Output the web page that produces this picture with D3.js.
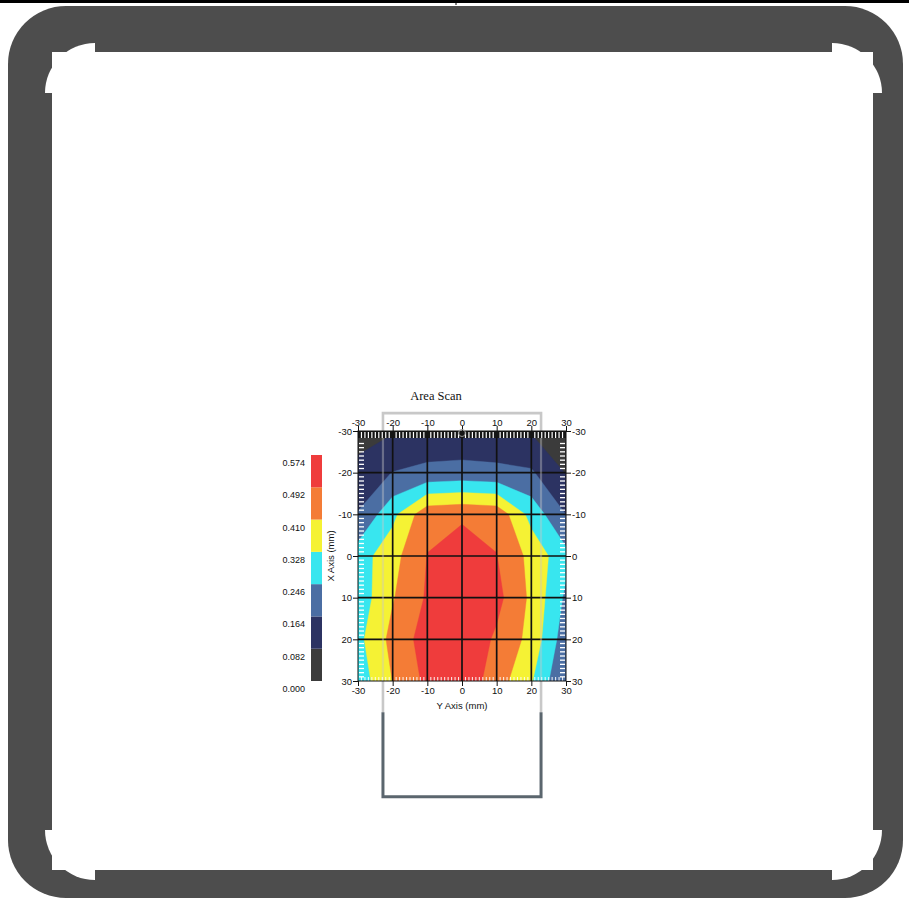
<!DOCTYPE html>
<html>
<head>
<meta charset="utf-8">
<script src="https://cdn.jsdelivr.net/npm/d3@7"></script>
<style>
  html, body { margin: 0; padding: 0; background: #fff; }
  svg { display: block; }
</style>
</head>
<body>
<svg id="chart" width="909" height="910"></svg>
<script>
// Measurement grid positions (mm)
const gridX = [-30, -20, -10, 0, 10, 20, 30];
const gridY = [-30, -20, -10, 0, 10, 20, 30];

// Measured values, one row per grid Y position (top to bottom)
const rowYm30 = [0.030, 0.075, 0.116, 0.105, 0.112, 0.075, 0.030];
const rowYm20 = [0.120, 0.166, 0.180, 0.190, 0.180, 0.174, 0.078];
const rowYm10 = [0.168, 0.305, 0.468, 0.480, 0.468, 0.298, 0.163];
const rowY0   = [0.287, 0.382, 0.494, 0.530, 0.494, 0.385, 0.270];
const rowY10  = [0.277, 0.404, 0.502, 0.570, 0.517, 0.393, 0.230];
const rowY20  = [0.305, 0.435, 0.530, 0.560, 0.478, 0.384, 0.197];
const rowY30  = [0.279, 0.412, 0.512, 0.550, 0.450, 0.335, 0.160];
const sarRows = [rowYm30, rowYm20, rowYm10, rowY0, rowY10, rowY20, rowY30];

// Colour scale levels and their labels
const levels = [0.000, 0.082, 0.164, 0.246, 0.328, 0.410, 0.492, 0.574];
const levelLabels = ["0.000", "0.082", "0.164", "0.246", "0.328", "0.410", "0.492", "0.574"];
const bandColors = ["#3b3b3b", "#2c3362", "#4b6ea3", "#38e6ef", "#f5f234", "#f47c36", "#ef3c3c"];

// Axis tick values (mm)
const xTickValues = [-30, -20, -10, 0, 10, 20, 30];
const yTickValues = [-30, -20, -10, 0, 10, 20, 30];
const gridLineValues = [-20, -10, 0, 10, 20];

// Texts
const titleText = "Area Scan";
const xTitle = "Y Axis (mm)";
const yTitle = "X Axis (mm)";

const svg = d3.select("#chart");
const W = 909, H = 910;

// ---------- surrounding frame ----------
svg.append("rect").attr("x", 0).attr("y", 0).attr("width", W).attr("height", H).attr("fill", "#fff");
svg.append("rect").attr("x", 0).attr("y", 0).attr("width", W).attr("height", 3).attr("fill", "#000");
svg.append("rect").attr("x", 455.5).attr("y", 0).attr("width", 1).attr("height", 5).attr("fill", "#000");

const frameColor = "#4d4d4d";
svg.append("rect").attr("x", 8).attr("y", 6).attr("width", 895).attr("height", 892)
  .attr("rx", 58).attr("ry", 58).attr("fill", frameColor);
svg.append("rect").attr("x", 52).attr("y", 52).attr("width", 821).attr("height", 818).attr("fill", "#fff");
// rounded corner cut-outs
const r = 50;
const corners = [
  `M95,93 L${95 - r},93 A${r},${r} 0 0 1 95,${93 - r} Z`,
  `M832,93 L832,${93 - r} A${r},${r} 0 0 1 ${832 + r},93 Z`,
  `M832,830 L${832 + r},830 A${r},${r} 0 0 1 832,${830 + r} Z`,
  `M95,830 L95,${830 + r} A${r},${r} 0 0 1 ${95 - r},830 Z`
];
svg.selectAll("path.corner").data(corners).join("path")
  .attr("class", "corner").attr("d", d => d).attr("fill", "#fff");

// ---------- plot scales ----------
const plot = { left: 358, right: 566, top: 431, bottom: 681 };
const x = d3.scaleLinear().domain([-30, 30]).range([plot.left, plot.right]);
const y = d3.scaleLinear().domain([-30, 30]).range([plot.top, plot.bottom]);

const font = "'Liberation Sans', Arial, sans-serif";

// ---------- device outline (light upper part, drawn under the plot) ----------
const outline = { half: 22.8, top: -34.3, split: 37.5, bottom: 57.8 };
const lightGray = "#c8c8c8", slate = "#5b666e";
const lightPath = `M${x(-outline.half)},${y(outline.split)} L${x(-outline.half)},${y(outline.top)} L${x(outline.half)},${y(outline.top)} L${x(outline.half)},${y(outline.split)}`;
svg.append("path").attr("d", lightPath)
  .attr("fill", "none").attr("stroke", lightGray).attr("stroke-width", 2.6);

// ---------- filled contours ----------
svg.append("clipPath").attr("id", "plotClip")
  .append("rect").attr("x", plot.left).attr("y", plot.top)
  .attr("width", plot.right - plot.left).attr("height", plot.bottom - plot.top);

const nx = gridX.length, ny = gridY.length;
const stepX = gridX[1] - gridX[0], stepY = gridY[1] - gridY[0];
const values = sarRows.flat();
const contourGen = d3.contours().size([nx, ny]).thresholds(levels.slice(0, bandColors.length));
const gridToPixel = d3.geoTransform({
  point(gx, gy) {
    this.stream.point(x(gridX[0] + (gx - 0.5) * stepX), y(gridY[0] + (gy - 0.5) * stepY));
  }
});
const contourPath = d3.geoPath(gridToPixel);

const gPlot = svg.append("g").attr("clip-path", "url(#plotClip)");
gPlot.selectAll("path.band").data(contourGen(values)).join("path")
  .attr("class", "band")
  .attr("d", contourPath)
  .attr("fill", (d, i) => bandColors[i])
  .attr("stroke", (d, i) => bandColors[i])
  .attr("stroke-width", 0.4);

// grid lines
gPlot.selectAll("line.gx").data(gridLineValues).join("line")
  .attr("x1", d => x(d)).attr("x2", d => x(d))
  .attr("y1", plot.top).attr("y2", plot.bottom)
  .attr("stroke", "#111").attr("stroke-width", 1.7);
gPlot.selectAll("line.gy").data(gridLineValues).join("line")
  .attr("y1", d => y(d)).attr("y2", d => y(d))
  .attr("x1", plot.left).attr("x2", plot.right)
  .attr("stroke", "#111").attr("stroke-width", 1.7);

// faint outline seen through the plot
gPlot.append("path").attr("d", lightPath)
  .attr("fill", "none").attr("stroke", lightGray).attr("stroke-width", 2.2).attr("opacity", 0.4);

// minor ticks inside the plot frame
const minor = d3.range(-29, 30, 1).filter(v => v % 10 !== 0);
gPlot.append("rect").attr("x", plot.left).attr("y", plot.top)
  .attr("width", plot.right - plot.left).attr("height", 7).attr("fill", "#151515");
gPlot.selectAll("line.mt").data(minor).join("line")
  .attr("x1", d => x(d)).attr("x2", d => x(d))
  .attr("y1", plot.top + 1).attr("y2", plot.top + 7)
  .attr("stroke", "#fff").attr("stroke-width", 1.2);
gPlot.selectAll("line.mb").data(minor).join("line")
  .attr("x1", d => x(d)).attr("x2", d => x(d))
  .attr("y1", plot.bottom - 4).attr("y2", plot.bottom)
  .attr("stroke", "#fff").attr("stroke-width", 1.1).attr("opacity", 0.85);
gPlot.selectAll("line.ml").data(minor.filter(v => v > -28)).join("line")
  .attr("y1", d => y(d)).attr("y2", d => y(d))
  .attr("x1", plot.left + 1).attr("x2", plot.left + 6)
  .attr("stroke", "#fff").attr("stroke-width", 1.3);
gPlot.selectAll("line.mr").data(minor.filter(v => v > -28)).join("line")
  .attr("y1", d => y(d)).attr("y2", d => y(d))
  .attr("x1", plot.right - 6).attr("x2", plot.right - 1)
  .attr("stroke", "#fff").attr("stroke-width", 1.3);

// plot frame
svg.append("rect").attr("x", plot.left).attr("y", plot.top)
  .attr("width", plot.right - plot.left).attr("height", plot.bottom - plot.top)
  .attr("fill", "none").attr("stroke", "#111").attr("stroke-width", 1);

// ---------- axes ----------
function styleAxis(g) {
  g.select(".domain").remove();
  g.selectAll(".tick line").attr("stroke", "#111").attr("stroke-width", 1);
  g.selectAll(".tick text").attr("font-family", font).attr("font-size", 9.5).attr("fill", "#111");
}
const fmt = d => String(d);
svg.append("g").attr("transform", `translate(0,${plot.top})`)
  .call(d3.axisTop(x).tickValues(xTickValues).tickFormat(fmt).tickSize(5).tickPadding(0).tickSizeOuter(0))
  .call(styleAxis);
svg.append("g").attr("transform", `translate(0,${plot.bottom})`)
  .call(d3.axisBottom(x).tickValues(xTickValues).tickFormat(fmt).tickSize(5).tickPadding(1).tickSizeOuter(0))
  .call(styleAxis);
svg.append("g").attr("transform", `translate(${plot.left},0)`)
  .call(d3.axisLeft(y).tickValues(yTickValues).tickFormat(fmt).tickSize(5).tickPadding(1).tickSizeOuter(0))
  .call(styleAxis);
svg.append("g").attr("transform", `translate(${plot.right},0)`)
  .call(d3.axisRight(y).tickValues(yTickValues).tickFormat(fmt).tickSize(5).tickPadding(1).tickSizeOuter(0))
  .call(styleAxis);

// titles
svg.append("text").attr("x", 436).attr("y", 400).attr("text-anchor", "middle")
  .attr("font-family", "'Liberation Serif', 'Times New Roman', serif").attr("font-size", 12.5)
  .attr("fill", "#111").text(titleText);
svg.append("text").attr("x", x(0)).attr("y", 709).attr("text-anchor", "middle")
  .attr("font-family", font).attr("font-size", 9.5).attr("fill", "#111").text(xTitle);
svg.append("text").attr("transform", `translate(334,${y(0)}) rotate(-90)`).attr("text-anchor", "middle")
  .attr("font-family", font).attr("font-size", 9.5).attr("fill", "#111").text(yTitle);

// ---------- device outline (lower part) ----------
svg.append("path")
  .attr("d", `M${x(-outline.half)},${y(outline.split)} L${x(-outline.half)},${y(outline.bottom)} L${x(outline.half)},${y(outline.bottom)} L${x(outline.half)},${y(outline.split)}`)
  .attr("fill", "none").attr("stroke", slate).attr("stroke-width", 3);
// reference point marker
svg.append("circle").attr("cx", x(0)).attr("cy", 433).attr("r", 3.5)
  .attr("fill", "none").attr("stroke", "#9a9a9a").attr("stroke-width", 1);

// ---------- colour legend ----------
const legend = { left: 311, width: 11 };
const ly = d3.scaleLinear().domain([levels[0], levels[levels.length - 1]]).range([plot.bottom, 455]);
svg.selectAll("rect.legend").data(bandColors).join("rect")
  .attr("class", "legend")
  .attr("x", legend.left).attr("width", legend.width)
  .attr("y", (d, i) => ly(levels[i + 1]))
  .attr("height", (d, i) => ly(levels[i]) - ly(levels[i + 1]))
  .attr("fill", d => d);
svg.selectAll("text.legend").data(levels).join("text")
  .attr("class", "legend")
  .attr("x", 305).attr("y", (d, i) => ly(d) + 11)
  .attr("text-anchor", "end")
  .attr("font-family", font).attr("font-size", 9).attr("fill", "#111")
  .text((d, i) => levelLabels[i]);
</script>
</body>
</html>
